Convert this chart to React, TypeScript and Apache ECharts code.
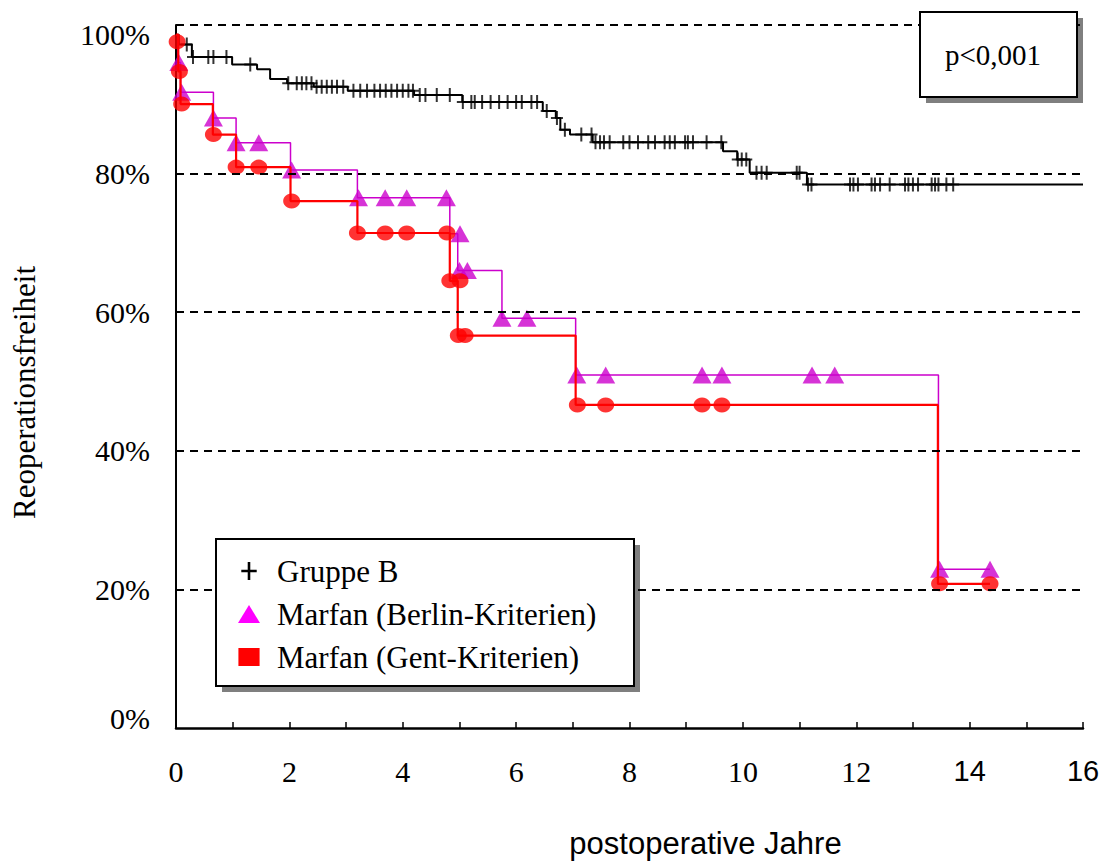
import React, { useEffect, useRef } from "react";
import * as echarts from "echarts";

// ---- data ----
const seriesNames = ["Gruppe B", "Marfan (Berlin-Kriterien)", "Marfan (Gent-Kriterien)"];

// Kaplan-Meier steps: [years, survival %] (level starts at that time)
const groupBSteps: [number, number][] = [
  [0, 100], [0.05, 98.6], [0.28, 96.8], [0.99, 95.7], [1.43, 95.0], [1.66, 93.6],
  [1.96, 93.0], [2.43, 92.5], [3.03, 91.9], [4.2, 91.3], [5.05, 90.3], [6.47, 89.0],
  [6.7, 88.0], [6.78, 86.3], [6.95, 85.6], [7.35, 84.5], [9.65, 83.2], [9.9, 82.0],
  [10.12, 80.1], [11.13, 78.4], [16, 78.4],
];
const groupBCensorTimes: number[] = [
  0.19, 0.3, 0.57, 0.66, 0.89, 1.31, 1.98, 2.13, 2.22, 2.3, 2.39, 2.48, 2.57, 2.66,
  2.75, 2.84, 2.95, 3.13, 3.25, 3.37, 3.5, 3.6, 3.7, 3.8, 3.9, 4.0, 4.1, 4.18, 4.3,
  4.4, 4.6, 4.83, 5.06, 5.21, 5.27, 5.4, 5.55, 5.7, 5.85, 6.0, 6.1, 6.27, 6.37, 6.54,
  6.72, 6.86, 7.15, 7.33, 7.4, 7.48, 7.55, 7.65, 7.89, 8.0, 8.15, 8.33, 8.45, 8.62,
  8.71, 8.8, 8.98, 9.03, 9.12, 9.36, 9.62, 9.91, 9.98, 10.06, 10.24, 10.33, 10.42,
  10.95, 11.0, 11.15, 11.21, 11.89, 11.95, 12.03, 12.27, 12.33, 12.42, 12.59, 12.86,
  12.92, 13.0, 13.09, 13.33, 13.39, 13.45, 13.59, 13.71,
];

const berlinSteps: [number, number][] = [
  [0, 100], [0.03, 96.0], [0.08, 91.7], [0.66, 88.0], [1.06, 84.4], [2.02, 80.5],
  [3.2, 76.5], [4.83, 71.3], [4.97, 66.0], [5.75, 59.1], [7.05, 50.9], [13.45, 22.9],
  [14.36, 22.9],
];
const berlinMarks: [number, number][] = [
  [0.05, 96.0], [0.1, 91.7], [0.66, 88.0], [1.06, 84.4], [1.46, 84.4], [2.04, 80.5],
  [3.22, 76.5], [3.69, 76.5], [4.07, 76.5], [4.77, 76.5], [5.01, 71.3], [5.0, 66.0],
  [5.14, 66.0], [5.75, 59.1], [6.19, 59.1], [7.07, 50.9], [7.58, 50.9], [9.28, 50.9],
  [9.63, 50.9], [11.22, 50.9], [11.62, 50.9], [13.47, 22.9], [14.36, 22.9],
];

const gentSteps: [number, number][] = [
  [0, 100], [0.04, 94.7], [0.08, 90.0], [0.65, 85.6], [1.06, 80.9], [2.02, 76.0],
  [3.2, 71.4], [4.83, 64.5], [4.97, 56.6], [7.05, 46.6], [13.44, 20.8], [14.36, 20.8],
];
const gentMarks: [number, number][] = [
  [0.02, 99.0], [0.06, 94.7], [0.1, 90.0], [0.66, 85.6], [1.06, 80.9], [1.46, 80.9],
  [2.04, 76.0], [3.2, 71.4], [3.69, 71.4], [4.07, 71.4], [4.78, 71.4], [4.83, 64.5],
  [5.01, 64.5], [4.98, 56.6], [5.1, 56.6], [7.08, 46.6], [7.58, 46.6], [9.28, 46.6],
  [9.63, 46.6], [13.47, 20.8], [14.36, 20.8],
];

const dashedLevels = [20, 40, 60, 80, 101.4];
const pValueText = "p<0,001";
const xAxisTitle = "postoperative Jahre";
const yAxisTitle = "Reoperationsfreiheit";

function levelAt(steps: [number, number][], t: number): number {
  let v = steps[0][1];
  for (const [st, sv] of steps) if (st <= t) v = sv;
  return v;
}

const SERIF = "'Liberation Serif', 'Times New Roman', serif";
const SANS = "'Liberation Sans', Arial, sans-serif";
const PLUS = "path://M5,0H7V14H5ZM0,6H12V8H0Z";
const TRI = "path://M11,0L22,18H0Z";
const SQ = "path://M0,0H20V17H0Z";

export default function App() {
  const ref = useRef<HTMLDivElement>(null);
  useEffect(() => {
    document.body.style.margin = "0";
    if (!ref.current) return;
    const chart = echarts.init(ref.current, undefined, { renderer: "svg" });
    const option: any = {
      animation: false,
      backgroundColor: "#fff",
      grid: { left: 176, right: 28, top: 25, bottom: 132, containLabel: false },
      xAxis: {
        type: "value",
        min: 0,
        max: 16,
        interval: 1,
        name: xAxisTitle,
        nameLocation: "middle",
        nameGap: 100,
        nameTextStyle: { fontFamily: SANS, fontSize: 31, color: "#000", padding: [0, 0, 0, 152] },
        axisLine: { show: true, onZero: false, lineStyle: { color: "#000", width: 2.5 } },
        axisTick: { show: true, inside: true, length: 6, lineStyle: { color: "#000", width: 1.5 } },
        splitLine: { show: false },
        axisLabel: {
          margin: 28,
          color: "#000",
          formatter: (v: number) => {
            if (Math.round(v) % 2 !== 0) return "";
            return v >= 14 ? `{s|${v}}` : `{t|${v}}`;
          },
          rich: {
            t: { fontFamily: SERIF, fontSize: 30, color: "#000" },
            s: { fontFamily: SANS, fontSize: 29, color: "#000" },
          },
        },
      },
      yAxis: {
        type: "value",
        min: 0,
        max: 101.4,
        interval: 20,
        name: yAxisTitle,
        nameLocation: "middle",
        nameRotate: 90,
        nameGap: 136,
        nameTextStyle: { fontFamily: SERIF, fontSize: 31, color: "#000", padding: [0, 32, 0, 0] },
        axisLine: { show: true, lineStyle: { color: "#000", width: 2 } },
        axisTick: { show: false },
        splitLine: { show: false },
        axisLabel: {
          margin: 26,
          color: "#000",
          fontFamily: SERIF,
          fontSize: 30,
          formatter: (v: number) => {
            if (Math.abs(v % 20) > 0.001) return "";
            return v === 0 ? "{z|0%}" : `${v}%`;
          },
          rich: { z: { fontFamily: SERIF, fontSize: 30, color: "#000", padding: [0, 0, 20, 0] } },
        },
      },
      legend: {
        orient: "vertical",
        left: 238,
        top: 555,
        padding: 0,
        itemGap: 11,
        itemWidth: 46,
        itemHeight: 18,
        selectedMode: false,
        z: 10,
        textStyle: { fontFamily: SERIF, fontSize: 31, color: "#000", lineHeight: 32 },
        data: [
          { name: seriesNames[0], icon: PLUS, itemStyle: { color: "#000" } },
          { name: seriesNames[1], icon: TRI, itemStyle: { color: "#ff00ff" } },
          { name: seriesNames[2], icon: SQ, itemStyle: { color: "#ff0000" } },
        ],
      },
      graphic: [
        // legend box with shadow
        { type: "rect", z: 5, shape: { x: 222, y: 545, width: 418, height: 147 }, style: { fill: "#7f7f7f" } },
        { type: "rect", z: 6, shape: { x: 216, y: 539, width: 418, height: 147 }, style: { fill: "#fff", stroke: "#000", lineWidth: 2 } },
        // p-value box
        { type: "rect", z: 5, shape: { x: 926, y: 18, width: 157, height: 85 }, style: { fill: "#7f7f7f" } },
        { type: "rect", z: 6, shape: { x: 920, y: 12, width: 157, height: 85 }, style: { fill: "#fff", stroke: "#000", lineWidth: 2 } },
        {
          type: "text", z: 7, x: 993, y: 55,
          style: { text: pValueText, fontFamily: SERIF, fontSize: 29, fill: "#000", align: "center", verticalAlign: "middle" },
        },
      ],
      series: [
        {
          name: seriesNames[0],
          type: "line",
          step: "end",
          showSymbol: false,
          z: 2,
          data: groupBSteps,
          lineStyle: { color: "#000", width: 2 },
          itemStyle: { color: "#000" },
          markLine: {
            silent: true,
            symbol: ["none", "none"],
            label: { show: false },
            lineStyle: { color: "#000", width: 2, type: [8, 6] },
            data: dashedLevels.map((v) => ({ yAxis: v })),
          },
        },
        {
          name: seriesNames[0],
          type: "scatter",
          z: 2,
          symbol: PLUS,
          symbolSize: [12, 14],
          itemStyle: { color: "#000" },
          data: groupBCensorTimes.map((t) => [t, levelAt(groupBSteps, t)]),
        },
        {
          name: seriesNames[1],
          type: "line",
          step: "end",
          showSymbol: false,
          z: 3,
          data: berlinSteps,
          lineStyle: { color: "#cc00cc", width: 1.5 },
          itemStyle: { color: "#cc00cc" },
        },
        {
          name: seriesNames[1],
          type: "scatter",
          z: 3,
          symbol: "triangle",
          symbolSize: [19, 17],
          itemStyle: { color: "#cc00cc" },
          data: berlinMarks,
        },
        {
          name: seriesNames[2],
          type: "line",
          step: "end",
          showSymbol: false,
          z: 4,
          data: gentSteps,
          lineStyle: { color: "#ff0000", width: 2.2 },
          itemStyle: { color: "#ff0000" },
        },
        {
          name: seriesNames[2],
          type: "scatter",
          z: 4,
          symbol: "circle",
          symbolSize: [17, 15],
          itemStyle: { color: "#ff0000" },
          data: gentMarks,
        },
      ],
    };
    chart.setOption(option);
    return () => chart.dispose();
  }, []);
  return <div ref={ref} style={{ width: 1111, height: 864 }} />;
}
